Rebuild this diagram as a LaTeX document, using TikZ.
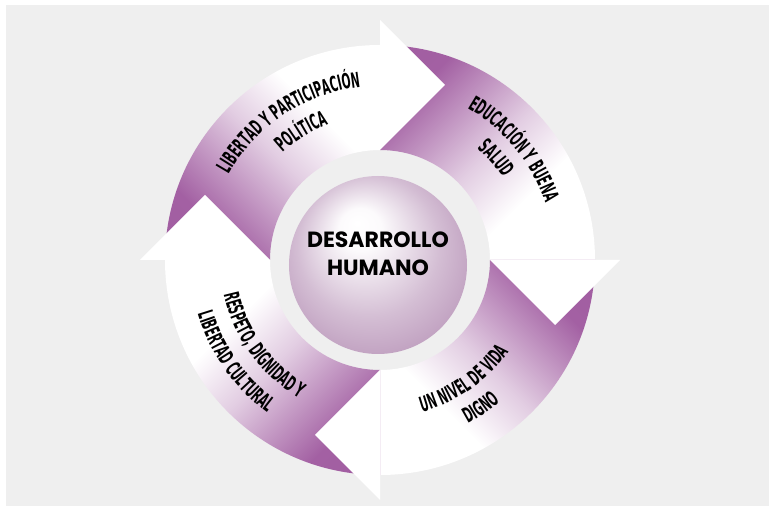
\documentclass[tikz,border=0pt]{standalone}
\usepackage{fontspec}
\usetikzlibrary{decorations.text}
\newfontfamily\corefont{Poppins}
\newfontfamily\bandfont{DejaVu Sans}[FakeStretch=0.5]
\newcommand{\bandtext}{\bandfont\bfseries\fontsize{21bp}{22bp}\selectfont}

\definecolor{ringpurple}{RGB}{158,88,158}
\definecolor{spherepurple}{RGB}{176,136,176}
\definecolor{bggray}{RGB}{239,239,239}

\pgfdeclarehorizontalshading{bandfade}{100bp}{color(0bp)=(ringpurple); color(28bp)=(ringpurple!95!white); color(50bp)=(ringpurple!30!white); color(64bp)=(white); color(100bp)=(white)}
\pgfdeclareradialshading{spherical}{\pgfpoint{-6bp}{12bp}}{color(0bp)=(white); color(6bp)=(white!96!spherepurple); color(20bp)=(spherepurple!55!white); color(36bp)=(spherepurple)}

\tikzset{
  band/.style={shading=bandfade},
  head/.style={fill=white},
  sphere/.style={circle, minimum size=178bp, inner sep=0pt, shading=spherical},
  coretext/.style={align=center, inner sep=0pt, font=\corefont\bfseries\fontsize{22bp}{28bp}\selectfont},
  arclabel/.style={decorate, decoration={text along path, text align=center, text={#1}}}
}

\begin{document}
\begin{tikzpicture}[x=1bp,y=1bp]
\useasboundingbox (-380,-246) rectangle (389,260);
\fill[bggray] (-380,-246) rectangle (389,260);
\fill[white] (-380,255) rectangle (389,260);
\fill[white] (-380,-246) rectangle (-374,260);

% four arrows of the cycle
\foreach \k/\ang in {0/45,1/-45,2/-135,3/135}
  \shade[band, shading angle=\ang, rotate=-90*\k] (180:215) arc[start angle=180, end angle=90, radius=215] -- (90:110) arc[start angle=90, end angle=180, radius=110] -- cycle;
\foreach \k in {0,...,3}
  \fill[head, rotate=-90*\k] (0,110) -- (0,240) -- (65,175) -- cycle;

\path[arclabel={|\bandtext|LIBERTAD Y PARTICIPACIÓN}] (168.5:174) arc[start angle=168.5, end angle=78.5, radius=174];
\path[arclabel={|\bandtext|POLÍTICA}] (166.6:145) arc[start angle=166.6, end angle=76.6, radius=145];
\path[arclabel={|\bandtext|EDUCACIÓN Y BUENA}] (84.6:175) arc[start angle=84.6, end angle=-5.4, radius=175];
\path[arclabel={|\bandtext|SALUD}] (86.4:148) arc[start angle=86.4, end angle=-3.6, radius=148];
\path[arclabel={|\bandtext|UN NIVEL DE VIDA}] (-100:158) arc[start angle=-100, end angle=-10, radius=158];
\path[arclabel={|\bandtext|DIGNO}] (-100.8:186) arc[start angle=-100.8, end angle=-10.8, radius=186];
\path[arclabel={|\bandtext|RESPETO, DIGNIDAD Y}] (171:160) arc[start angle=171, end angle=261, radius=160];
\path[arclabel={|\bandtext|LIBERTAD CULTURAL}] (170:190) arc[start angle=170, end angle=260, radius=190];

\node[sphere] (core) at (-2,-5) {};
\node[coretext] (coretitle) at ([yshift=11bp]core.center) {DESARROLLO\\HUMANO};
\end{tikzpicture}
\end{document}
